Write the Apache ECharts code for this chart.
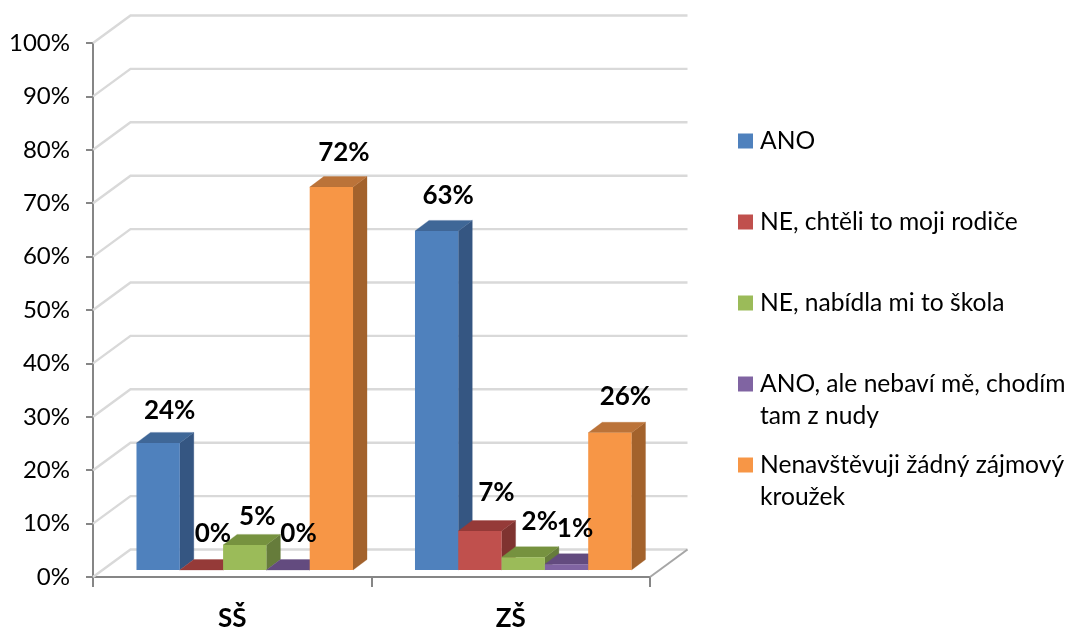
<!DOCTYPE html>
<html><head><meta charset="utf-8">
<style>html,body{margin:0;padding:0;background:#fff}#c{width:1067px;height:629px}</style>
<script src="https://cdn.jsdelivr.net/npm/echarts@6/dist/echarts.min.js"></script>
</head><body><div id="c"></div>
<script>
const categories = ['SŠ', 'ZŠ'];
const yTicks = [0,10,20,30,40,50,60,70,80,90,100];
const ano = [23.8, 63.5];
const neRodice = [0, 7.3];
const neSkola = [4.7, 2.4];
const anoNuda = [0, 1.1];
const nenavstevuji = [71.7, 25.7];
const labelTexts = [['24%','63%'],['0%','7%'],['5%','2%'],['0%','1%'],['72%','26%']];
const seriesNames = ['ANO','NE, chtěli to moji rodiče','NE, nabídla mi to škola','ANO, ale nebaví mě, chodím tam z nudy','Nenavštěvuji žádný zájmový kroužek'];
const seriesValues = [ano, neRodice, neSkola, anoNuda, nenavstevuji];
const palette = [
  {front:'#4f81bd', top:'#3f6797', side:'#355682'},
  {front:'#c0504d', top:'#953a38', side:'#7f3330'},
  {front:'#9bbb59', top:'#76923f', side:'#667c3b'},
  {front:'#8064a2', top:'#634b7f', side:'#55436c'},
  {front:'#f79646', top:'#bb7339', side:'#a3622c'}
];
const FONT = 'Lato';
const wallDX = 37.5, wallDY = -27.5;   // perspective of side wall
const baseDX = 12.5, baseDY = -7;      // bar row inside the floor
const barDX = 14, barDY = -10.5;       // bar depth
const labelNudge = [[[0,3],[0,0]],[[0,-1],[5,-3]],[[1,7],[5,-1]],[[-1,-1],[-3,-1]],[[1,0],[4,-1]]];

function barItem(si){
  return function(params, api){
    const cat = api.value(0), val = api.value(1);
    const band = api.size([1,0])[0];
    const w = band * 0.1555;
    const c = api.coord([cat, 0]);
    const t = api.coord([cat, val]);
    const x0 = c[0] + baseDX - 2.5*w + si*w, x1 = x0 + w;
    const yb = c[1] + baseDY, yt = t[1] + baseDY;
    const col = palette[si];
    const poly = (pts, fill) => ({type:'polygon', shape:{points:pts}, style:{fill, stroke:fill, lineWidth:0.3}});
    const children = [
      poly([[x1,yb],[x1+barDX,yb+barDY],[x1+barDX,yt+barDY],[x1,yt]], col.side),
      poly([[x0,yt],[x1,yt],[x1+barDX,yt+barDY],[x0+barDX,yt+barDY]], col.top)
    ];
    if (val > 0) children.push({type:'rect', shape:{x:x0,y:yt,width:w,height:yb-yt}, style:{fill:col.front}});
    const n = labelNudge[si][cat];
    children.push({type:'text', z2:100, x:x0+w/2+11.5+n[0], y:yt-35+n[1], style:{
      text:labelTexts[si][cat], fill:'#000', font:'bold 26px '+FONT, align:'center', verticalAlign:'middle'}});
    return {type:'group', children};
  };
}

function wallItem(params, api){
  const v = api.value(0);
  const r = params.coordSys;
  const y = api.coord([0, v])[1];
  const xL = r.x, xR = r.x + r.width;
  const kids = [{type:'polyline', shape:{points:[[xL,y],[xL+wallDX,y+wallDY],[xR+wallDX,y+wallDY]]},
    style:{fill:'none', stroke:'#d9d9d9', lineWidth:2.4}}];
  if (v === 0) kids.push({type:'line', shape:{x1:xR,y1:y,x2:xR+wallDX,y2:y+wallDY}, style:{stroke:'#a6a6a6', lineWidth:2}});
  return {type:'group', children:kids};
}

const series = [{
  type:'custom', name:'wall', coordinateSystem:'cartesian2d', silent:true, z:1, animation:false, clip:false,
  renderItem:wallItem, data:yTicks.map(v=>[v]), encode:{y:0}
}];
seriesValues.forEach((vals,si)=>{
  series.push({type:'custom', name:seriesNames[si], coordinateSystem:'cartesian2d', z:3, animation:false, clip:false,
    itemStyle:{color:palette[si].front}, renderItem:barItem(si),
    data:vals.map((v,i)=>[i,v]), encode:{x:0,y:1}});
});

const firstLine = {
  'ANO, ale nebaví mě, chodím tam z nudy':'ANO, ale nebaví mě, chodím',
  'Nenavštěvuji žádný zájmový kroužek':'Nenavštěvuji žádný zájmový'
};
const secondLines = ['tam z nudy','kroužek'];
const legendTops = [125,206,287,368,449];
const legend = seriesNames.map((n,i)=>({
  show:true, data:[n], left:738, top:legendTops[i], orient:'vertical', padding:0,
  itemWidth:15, itemHeight:15, itemGap:0, icon:'rect', selectedMode:false,
  formatter:(nm)=>firstLine[nm]||nm,
  textStyle:{color:'#000', fontFamily:FONT, fontSize:24.6, lineHeight:32, padding:[0,0,0,2]}
}));
const graphic = secondLines.map((t,i)=>({
  type:'text', left:760, top:[400,481][i],
  style:{text:t, fill:'#000', font:'24.6px '+FONT, lineHeight:32}
}));

const chart = echarts.init(document.getElementById('c'), null, {renderer:'canvas'});
chart.setOption({
  animation:false,
  backgroundColor:'#fff',
  grid:{left:93, right:417, top:43, bottom:52, containLabel:false, outerBoundsMode:'none'},
  legend, graphic,
  xAxis:{type:'category', data:categories, boundaryGap:true,
    axisLine:{lineStyle:{color:'#868686', width:2}},
    axisTick:{show:true, length:10, lineStyle:{color:'#868686', width:2}},
    axisLabel:{color:'#000', fontFamily:FONT, fontWeight:'bold', fontSize:26, margin:29},
    splitLine:{show:false}},
  yAxis:{type:'value', min:0, max:100, interval:10,
    axisLine:{show:true, lineStyle:{color:'#868686', width:2}},
    axisTick:{show:true, length:7, lineStyle:{color:'#868686', width:2}},
    axisLabel:{color:'#000', fontFamily:FONT, fontSize:24, margin:23, padding:[8,0,0,0], formatter:'{value}%'},
    splitLine:{show:false}},
  series
});
</script></body></html>
